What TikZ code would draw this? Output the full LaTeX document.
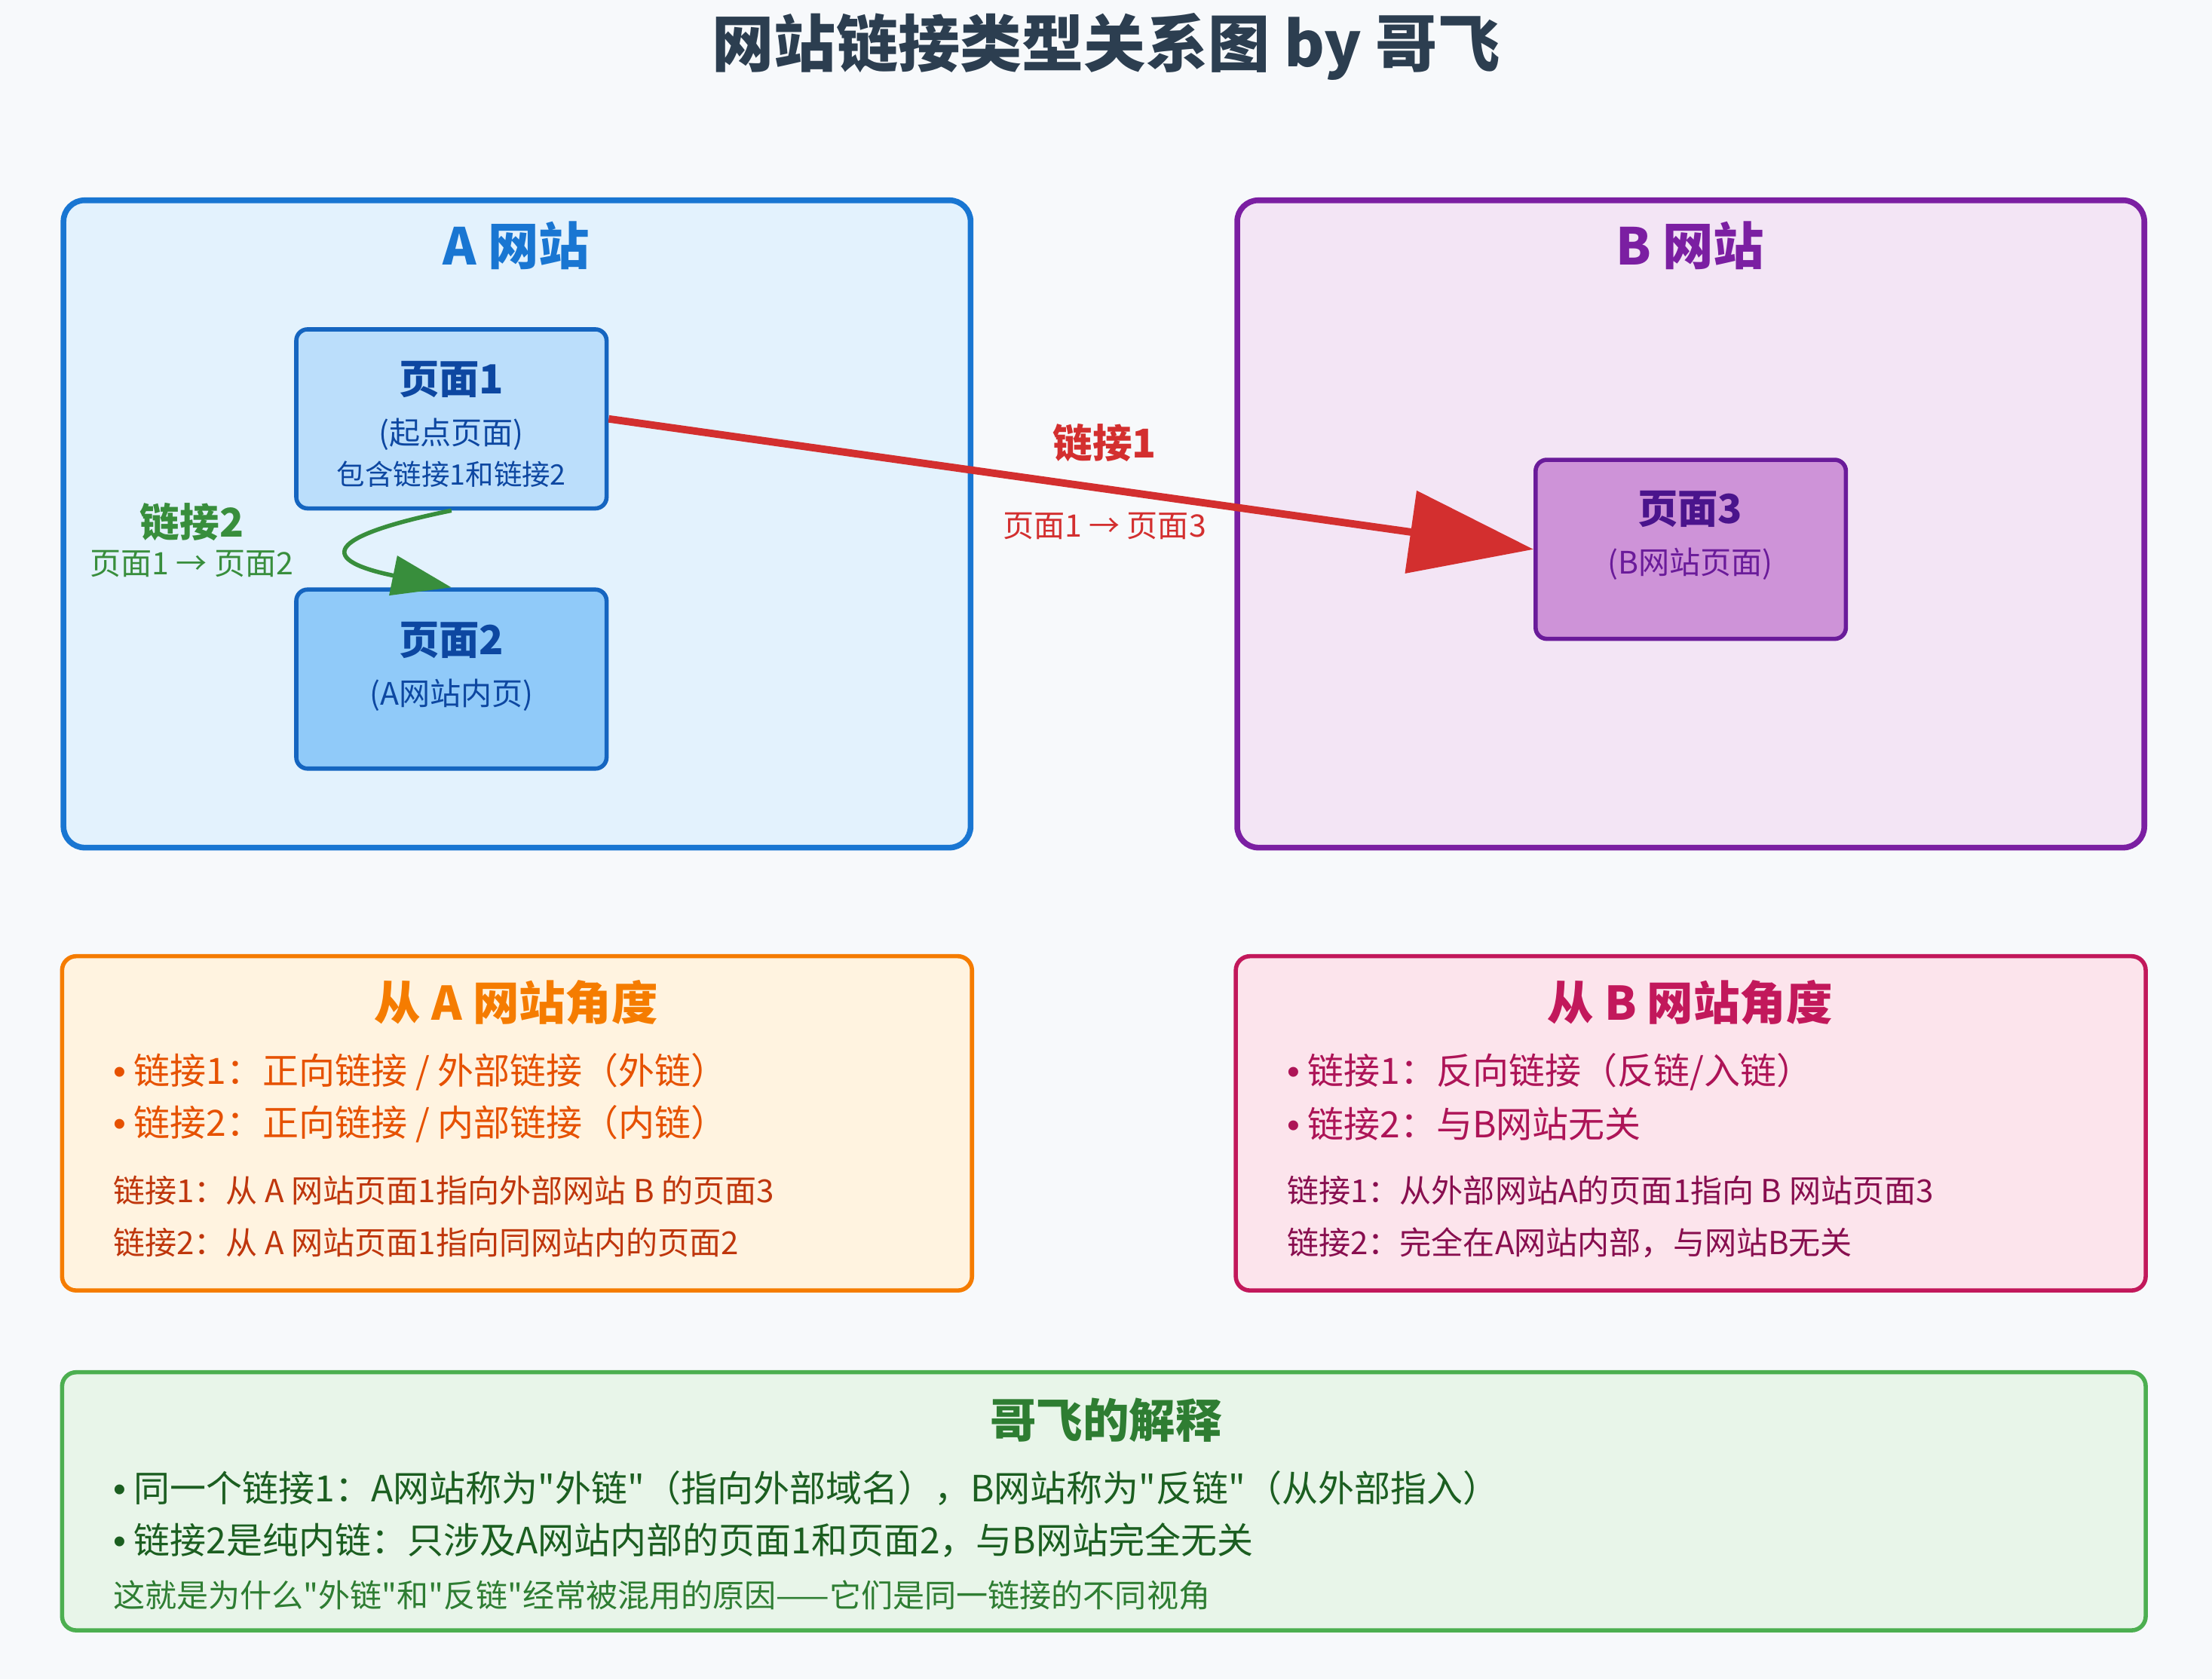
\documentclass[tikz,border=0pt]{standalone}
\usepackage{fontspec}
\setmainfont{Noto Sans CJK SC}[Ligatures=TeXOff]
\newfontfamily\dotfont{Liberation Sans}
\newcommand{\bul}{{\dotfont •}\ }
\usetikzlibrary{arrows.meta}
\definecolor{bgc}{HTML}{F7F9FB}
\definecolor{titlec}{HTML}{2C3E50}
\definecolor{ablue}{HTML}{1976D2}
\definecolor{afill}{HTML}{E3F2FD}
\definecolor{pgfillA}{HTML}{BBDEFB}
\definecolor{pgfillB}{HTML}{90CAF9}
\definecolor{pgborder}{HTML}{1565C0}
\definecolor{pgtext}{HTML}{0D47A1}
\definecolor{bpurple}{HTML}{7B1FA2}
\definecolor{bfill}{HTML}{F3E5F5}
\definecolor{pgfillC}{HTML}{CE93D8}
\definecolor{pgborderC}{HTML}{6A1B9A}
\definecolor{pgtextC}{HTML}{4A148C}
\definecolor{linkred}{HTML}{D32F2F}
\definecolor{linkgreen}{HTML}{388E3C}
\definecolor{oborder}{HTML}{F57C00}
\definecolor{ofill}{HTML}{FFF3E0}
\definecolor{otext}{HTML}{E65100}
\definecolor{otextB}{HTML}{BF360C}
\definecolor{kborder}{HTML}{C2185B}
\definecolor{kfill}{HTML}{FCE4EC}
\definecolor{ktext}{HTML}{AD1457}
\definecolor{ktextB}{HTML}{880E4F}
\definecolor{gborder}{HTML}{4CAF50}
\definecolor{gfill}{HTML}{E8F5E9}
\definecolor{gtext}{HTML}{2E7D32}
\definecolor{gtextB}{HTML}{1B5E20}
\tikzset{
  site/.style={line width=2.3pt,rounded corners=0.3cm},
  notebox/.style={line width=1.7pt,rounded corners=0.2cm},
  pagebox/.style={draw=pgborder,line width=1.7pt,rounded corners=0.16cm,
    minimum width=4.4cm,minimum height=2.54cm,inner sep=0pt},
  bigtitle/.style={font=\fontsize{25}{30}\selectfont\bfseries,text=titlec},
  sitetitle/.style={font=\fontsize{20.5}{24}\selectfont\bfseries},
  notetitle/.style={font=\fontsize{18.7}{22}\selectfont\bfseries},
  pagetitle/.style={font=\fontsize{16.2}{19}\selectfont\bfseries},
  pagesub/.style={font=\fontsize{12.5}{15}\selectfont},
  linklabel/.style={font=\fontsize{16}{19}\selectfont\bfseries},
  bullet/.style={font=\fontsize{14.6}{17}\selectfont,anchor=west,inner xsep=0pt},
  smalltext/.style={font=\fontsize{12.8}{15}\selectfont,anchor=west,inner xsep=0pt}
}
\begin{document}
\begin{tikzpicture}[x=0.02cm,y=-0.02cm]
  \fill[bgc] (0,0) rectangle (1568,1190.7);
  \node[bigtitle] (title) at (784,33) {网站链接类型关系图 by 哥飞};

  % the two sites
  \draw[site,draw=ablue,fill=afill] (45,142) rectangle (688,601);
  \draw[site,draw=bpurple,fill=bfill] (877,142) rectangle (1520,601);
  \node[sitetitle,text=ablue] (atitle) at (366,174) {A 网站};
  \node[sitetitle,text=bpurple] (btitle) at (1198,174) {B 网站};

  % pages
  \node[pagebox,fill=pgfillA] (p1) at (320,297) {};
  \node[pagebox,fill=pgfillB] (p2) at (320,481.5) {};
  \node[pagebox,draw=pgborderC,fill=pgfillC] (p3) at (1198.5,389.5) {};
  \node[pagetitle,text=pgtext] (p1name) at (320,269) {页面1};
  \node[pagesub,text=pgtext] (p1role) at (320,308) {(起点页面)};
  \node[font=\fontsize{11.4}{14}\selectfont,text=pgtext] (p1info) at (320,336) {包含链接1和链接2};
  \node[pagetitle,text=pgtext] (p2name) at (320,454) {页面2};
  \node[pagesub,text=pgtext] (p2role) at (320,493) {(A网站内页)};
  \node[pagetitle,text=pgtextC] (p3name) at (1198,361) {页面3};
  \node[pagesub,text=pgborderC] (p3role) at (1198,400) {(B网站页面)};

  % links
  \draw[linkred,line width=3pt,-{Triangle[length=50pt,width=33pt]}] (p1.east) -- (p3.west);
  \draw[linkgreen,line width=1.7pt,-{Triangle[length=24pt,width=16pt]}]
    (p1.south) .. controls +(-93,19) and +(-93,-19) .. (p2.north);
  \node[linklabel,text=linkred] (l1name) at (783,314) {链接1};
  \node[pagesub,text=linkred] (l1path) at (783,373) {页面1 → 页面3};
  \node[linklabel,text=linkgreen] (l2name) at (136,370) {链接2};
  \node[pagesub,text=linkgreen] (l2path) at (136,400) {页面1 → 页面2};

  % view from A
  \draw[notebox,draw=oborder,fill=ofill] (44,678) rectangle (689,915);
  \node[notetitle,text=oborder] (aview) at (366,711) {从 A 网站角度};
  \node[bullet,text=otext] (aview1) at (80,760) {\bul 链接1：正向链接 / 外部链接（外链）};
  \node[bullet,text=otext] (aview2) at (80,797) {\bul 链接2：正向链接 / 内部链接（内链）};
  \node[smalltext,text=otextB] (anote1) at (80,844) {链接1：从 A 网站页面1指向外部网站 B 的页面3};
  \node[smalltext,text=otextB] (anote2) at (80,881) {链接2：从 A 网站页面1指向同网站内的页面2};

  % view from B
  \draw[notebox,draw=kborder,fill=kfill] (876,678) rectangle (1521,915);
  \node[notetitle,text=kborder] (bview) at (1198,711) {从 B 网站角度};
  \node[bullet,text=ktext] (bview1) at (912,760) {\bul 链接1：反向链接（反链/入链）};
  \node[bullet,text=ktext] (bview2) at (912,797) {\bul 链接2：与B网站无关};
  \node[smalltext,text=ktextB] (bnote1) at (912,844) {链接1：从外部网站A的页面1指向 B 网站页面3};
  \node[smalltext,text=ktextB] (bnote2) at (912,881) {链接2：完全在A网站内部，与网站B无关};

  % explanation
  \draw[notebox,draw=gborder,fill=gfill] (44,973) rectangle (1521,1156);
  \node[notetitle,text=gtext] (expl) at (784,1007) {哥飞的解释};
  \node[bullet,text=gtextB] (expl1) at (80,1055) {\bul 同一个链接1：A网站称为"外链"（指向外部域名），B网站称为"反链"（从外部指入）};
  \node[bullet,text=gtextB] (expl2) at (80,1092) {\bul 链接2是纯内链：只涉及A网站内部的页面1和页面2，与B网站完全无关};
  \node[smalltext,text=gtext] (expl3) at (80,1131) {这就是为什么"外链"和"反链"经常被混用的原因——它们是同一链接的不同视角};
\end{tikzpicture}
\end{document}
